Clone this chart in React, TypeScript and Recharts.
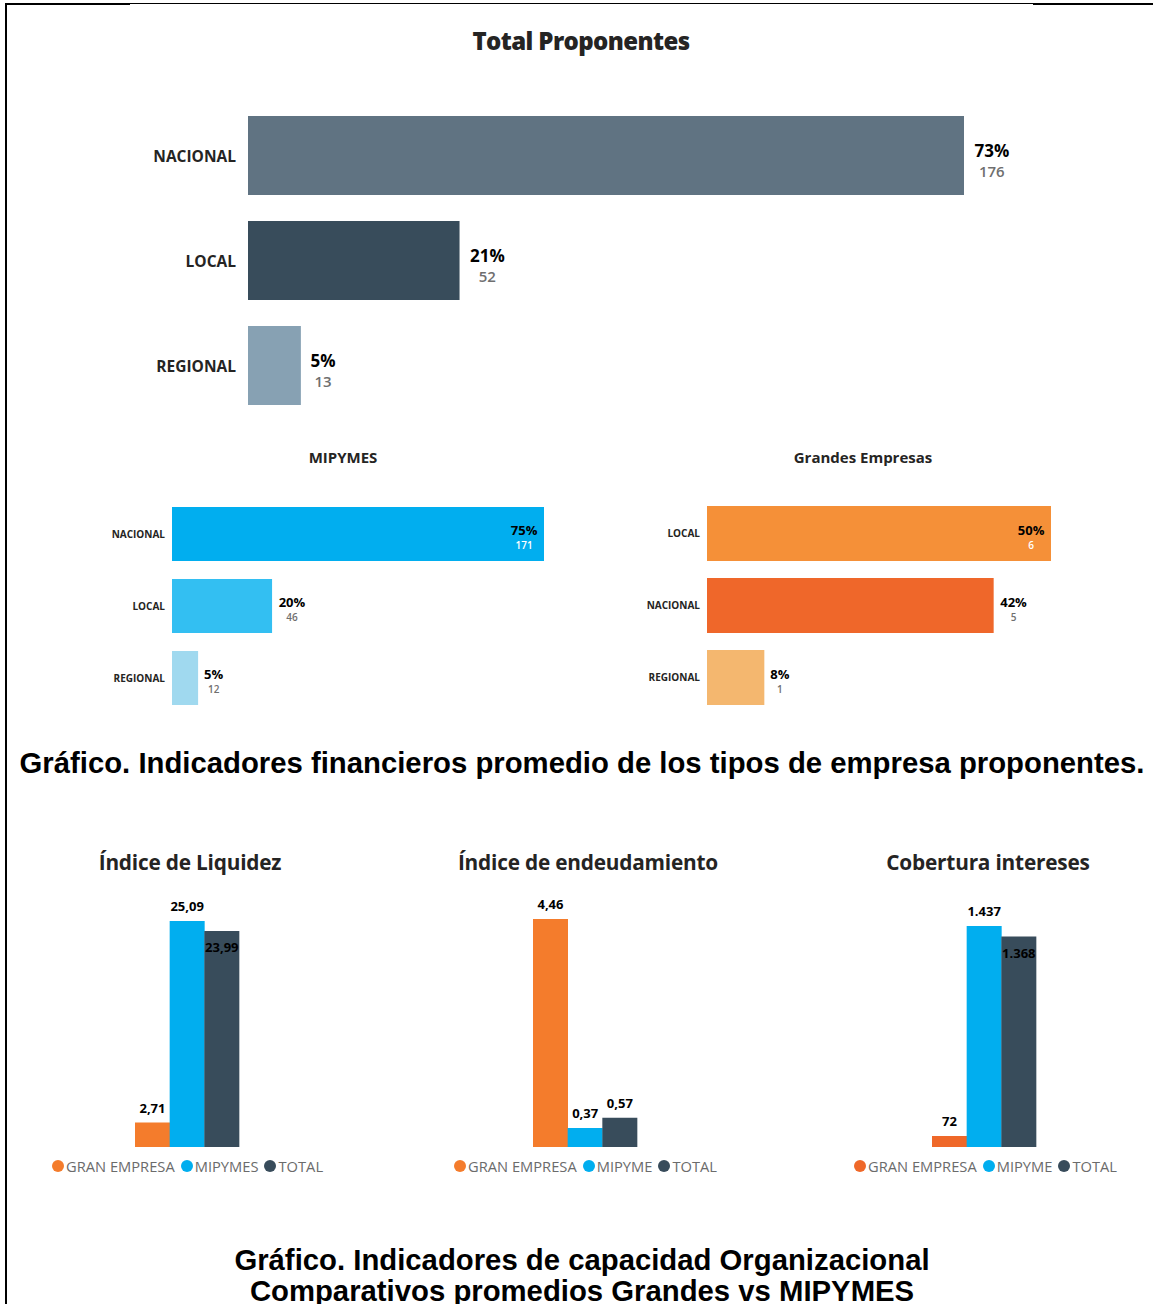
import React from 'react';
import { BarChart, Bar, XAxis, YAxis, Cell, LabelList } from 'recharts';

// ---------- DATA ----------
const totalCategories = ['NACIONAL', 'LOCAL', 'REGIONAL'];
const totalCounts = [176, 52, 13];
const totalPercents = ['73%', '21%', '5%'];

const mipymeCategories = ['NACIONAL', 'LOCAL', 'REGIONAL'];
const mipymeCounts = [171, 46, 12];
const mipymePercents = ['75%', '20%', '5%'];

const grandesCategories = ['LOCAL', 'NACIONAL', 'REGIONAL'];
const grandesCounts = [6, 5, 1];
const grandesPercents = ['50%', '42%', '8%'];

const liquidezSeries = ['GRAN EMPRESA', 'MIPYMES', 'TOTAL'];
const liquidezValues = [2.71, 25.09, 23.99];

const endeudamientoSeries = ['GRAN EMPRESA', 'MIPYME', 'TOTAL'];
const endeudamientoValues = [4.46, 0.37, 0.57];

const coberturaSeries = ['GRAN EMPRESA', 'MIPYME', 'TOTAL'];
const coberturaValues = [72, 1437, 1368];

// ---------- STYLE ----------
const UI_FONT = '"Open Sans", "Noto Sans", sans-serif';
const CAPTION_FONT = '"Liberation Sans", Arial, sans-serif';
const totalColors = ['#607382', '#384c5b', '#87a1b3'];
const mipymeColors = ['#01aeef', '#33bff2', '#a0d9ef'];
const grandesColors = ['#f59038', '#ef672a', '#f4b76f'];
const compareColorsA = ['#f47c2c', '#01aeef', '#384c5b'];
const compareColorsC = ['#ef6829', '#01aeef', '#384c5b'];

const fmtDecimal = (v: number) => v.toFixed(2).replace('.', ',');
const fmtThousands = (v: number) => String(Math.round(v)).replace(/\B(?=(\d{3})+(?!\d))/g, '.');

type HProps = {
  left: number; top: number; width: number; height: number;
  plotLeft: number; plotRight: number; marginTop: number; marginBottom: number;
  barSize: number;
  categories: string[]; counts: number[]; percents: string[]; colors: string[];
  tickSize: number; tickGap: number; pctSize: number; countSize: number;
  pctDy: number; countDy: number; gap: number; insideMax: boolean;
};

function HBarChart(p: HProps) {
  const data = p.categories.map((c, i) => ({ name: c, value: p.counts[i] }));
  const max = Math.max(...p.counts);
  const renderTick = (props: any) => (
    <text x={props.x - p.tickGap} y={props.y} textAnchor="end" dominantBaseline="central"
      fontFamily={UI_FONT} fontWeight={700} fontSize={p.tickSize} fill="#252423">
      {props.payload.value}
    </text>
  );
  const renderLabel = (props: any) => {
    const { x, y, width, height, value } = props;
    let index = props.index;
    if (index === undefined) index = p.counts.indexOf(value);
    const pct = p.percents[index];
    const pctW = pct.length * p.pctSize * 0.66;
    const inside = p.insideMax && value === max;
    const cx = inside ? x + width - 7 - pctW / 2 : x + width + p.gap + pctW / 2;
    const cy = y + height / 2;
    return (
      <g>
        <text x={cx} y={cy + p.pctDy} textAnchor="middle" dominantBaseline="central"
          fontFamily={UI_FONT} fontWeight={700} fontSize={p.pctSize} fill="#000">{pct}</text>
        <text x={cx} y={cy + p.countDy} textAnchor="middle" dominantBaseline="central"
          fontFamily={UI_FONT} fontWeight={600} fontSize={p.countSize} fill={inside ? '#ffffff' : '#6f6f6f'}>{value}</text>
      </g>
    );
  };
  return (
    <div style={{ position: 'absolute', left: p.left, top: p.top }}>
      <BarChart layout="vertical" width={p.width} height={p.height} data={data} barSize={p.barSize}
        margin={{ top: p.marginTop, right: p.width - p.plotRight, bottom: p.marginBottom, left: 0 }}>
        <XAxis type="number" hide domain={[0, max]} />
        <YAxis type="category" dataKey="name" width={p.plotLeft} axisLine={false} tickLine={false}
          tickSize={0} tickMargin={0} tick={renderTick} interval={0} />
        <Bar dataKey="value" isAnimationActive={false}>
          {data.map((d, i) => <Cell key={d.name} fill={p.colors[i]} />)}
          <LabelList dataKey="value" content={renderLabel} />
        </Bar>
      </BarChart>
    </div>
  );
}

type VProps = {
  left: number; top: number; width: number; height: number;
  mLeft: number; mRight: number; mTop: number;
  series: string[]; values: number[]; colors: string[];
  format: (v: number) => string;
  title: string; titleX: number; legendX: number;
};

function VBarChart(p: VProps) {
  const data = p.series.map((s, i) => ({ name: s, value: p.values[i] }));
  const max = Math.max(...p.values);
  const renderLabel = (props: any) => {
    const { x, y, width, value } = props;
    let index = props.index;
    if (index === undefined) index = p.values.indexOf(value);
    const prev = index > 0 ? p.values[index - 1] : -Infinity;
    const inside = prev > value && (prev - value) / max < 0.1;
    const cy = inside ? y + 16 : y - 15;
    return (
      <text x={x + width / 2} y={cy} textAnchor="middle" dominantBaseline="central"
        fontFamily={UI_FONT} fontWeight={700} fontSize={13} fill="#000">{p.format(value)}</text>
    );
  };
  return (
    <>
      <div style={{ position: 'absolute', left: p.titleX - 200, width: 400, top: 848, textAlign: 'center',
        fontFamily: UI_FONT, fontWeight: 700, fontSize: 20.8, color: '#252423', lineHeight: '28px', letterSpacing: -0.2 }}>
        {p.title}
      </div>
      <div style={{ position: 'absolute', left: p.left, top: p.top }}>
        <BarChart width={p.width} height={p.height} data={data} barCategoryGap={0} barGap={0}
          margin={{ top: p.mTop, right: p.mRight, bottom: 0, left: p.mLeft }}>
          <XAxis type="category" dataKey="name" hide />
          <YAxis type="number" hide domain={[0, max]} />
          <Bar dataKey="value" isAnimationActive={false}>
            {data.map((d, i) => <Cell key={d.name} fill={p.colors[i]} />)}
            <LabelList dataKey="value" content={renderLabel} />
          </Bar>
        </BarChart>
      </div>
      <div style={{ position: 'absolute', left: p.legendX, top: 1156, display: 'flex', alignItems: 'center',
        fontFamily: UI_FONT, fontSize: 14.7, color: '#6b6b6b', whiteSpace: 'nowrap', lineHeight: '20px' }}>
        {p.series.map((s, i) => (
          <span key={s} style={{ display: 'flex', alignItems: 'center', marginRight: 6 }}>
            <span style={{ width: 12, height: 12, borderRadius: '50%', background: p.colors[i], display: 'inline-block', marginRight: 2 }} />
            {s}
          </span>
        ))}
      </div>
    </>
  );
}

export default function App() {
  return (
    <div style={{ position: 'absolute', left: 0, top: 0, width: 1153, height: 1304, background: '#fff', overflow: 'hidden' }}>
      {/* frame lines */}
      <div style={{ position: 'absolute', left: 5, top: 3, width: 2, height: 1301, background: '#000' }} />
      <div style={{ position: 'absolute', left: 5, top: 3, width: 125, height: 2, background: '#000' }} />
      <div style={{ position: 'absolute', left: 130, top: 3, width: 903, height: 1, background: '#000' }} />
      <div style={{ position: 'absolute', left: 1033, top: 3, width: 120, height: 2, background: '#000' }} />

      {/* Total Proponentes */}
      <div style={{ position: 'absolute', left: 381, width: 400, top: 25, textAlign: 'center', fontFamily: UI_FONT,
        fontWeight: 800, fontSize: 24, color: '#252423', lineHeight: '32px', letterSpacing: -0.6 }}>
        Total Proponentes
      </div>
      <HBarChart left={0} top={90} width={1153} height={340} plotLeft={248} plotRight={964}
        marginTop={13} marginBottom={12} barSize={79}
        categories={totalCategories} counts={totalCounts} percents={totalPercents} colors={totalColors}
        tickSize={15.5} tickGap={12} pctSize={17} countSize={15} pctDy={-5} countDy={15} gap={11} insideMax={false} />

      {/* MIPYMES */}
      <div style={{ position: 'absolute', left: 243, width: 200, top: 447, textAlign: 'center', fontFamily: UI_FONT,
        fontWeight: 700, fontSize: 15, color: '#252423', lineHeight: '20px' }}>
        MIPYMES
      </div>
      <HBarChart left={0} top={480} width={600} height={250} plotLeft={172} plotRight={544}
        marginTop={18} marginBottom={16} barSize={54}
        categories={mipymeCategories} counts={mipymeCounts} percents={mipymePercents} colors={mipymeColors}
        tickSize={10} tickGap={7} pctSize={13} countSize={10} pctDy={-4} countDy={11} gap={7} insideMax={true} />

      {/* Grandes Empresas */}
      <div style={{ position: 'absolute', left: 763, width: 200, top: 447, textAlign: 'center', fontFamily: UI_FONT,
        fontWeight: 700, fontSize: 15, color: '#252423', lineHeight: '20px' }}>
        Grandes Empresas
      </div>
      <HBarChart left={600} top={480} width={553} height={250} plotLeft={107} plotRight={451}
        marginTop={17} marginBottom={17} barSize={55}
        categories={grandesCategories} counts={grandesCounts} percents={grandesPercents} colors={grandesColors}
        tickSize={10} tickGap={7} pctSize={13} countSize={10} pctDy={-4} countDy={11} gap={7} insideMax={true} />

      {/* Caption 1 */}
      <div style={{ position: 'absolute', left: 0, width: 1164, top: 744, textAlign: 'center', fontFamily: CAPTION_FONT,
        fontWeight: 700, fontSize: 29.3, color: '#000', lineHeight: '38px', whiteSpace: 'nowrap' }}>
        Gráfico. Indicadores financieros promedio de los tipos de empresa proponentes.
      </div>

      <VBarChart left={40} top={880} width={300} height={267} mLeft={95} mRight={101} mTop={41}
        series={liquidezSeries} values={liquidezValues} colors={compareColorsA} format={fmtDecimal}
        title="Índice de Liquidez" titleX={190} legendX={52} />
      <VBarChart left={440} top={880} width={320} height={267} mLeft={93} mRight={123} mTop={39}
        series={endeudamientoSeries} values={endeudamientoValues} colors={compareColorsA} format={fmtDecimal}
        title="Índice de endeudamiento" titleX={588} legendX={454} />
      <VBarChart left={840} top={880} width={313} height={267} mLeft={92} mRight={117} mTop={46}
        series={coberturaSeries} values={coberturaValues} colors={compareColorsC} format={fmtThousands}
        title="Cobertura intereses" titleX={988} legendX={854} />

      {/* Caption 2 */}
      <div style={{ position: 'absolute', left: 0, width: 1164, top: 1244, textAlign: 'center', fontFamily: CAPTION_FONT,
        fontWeight: 700, fontSize: 29.3, color: '#000', lineHeight: '31px', whiteSpace: 'nowrap' }}>
        Gráfico. Indicadores de capacidad Organizacional<br />Comparativos promedios Grandes vs MIPYMES
      </div>
    </div>
  );
}
